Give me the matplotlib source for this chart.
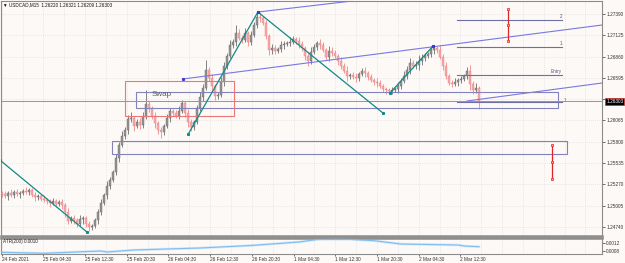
import numpy as np
import matplotlib
matplotlib.use("Agg")
import matplotlib.pyplot as plt
from matplotlib.patches import Rectangle

plt.rcParams['font.family'] = ['Liberation Sans', 'DejaVu Sans']

# USDCAD M15 closes (one candle ~ 2 bars)
closes = [1.25149, 1.25124, 1.25161, 1.25136, 1.25174, 1.25149, 1.25161, 1.25186, 1.25174, 1.25199,
          1.25136, 1.25112, 1.25124, 1.25087, 1.25074, 1.25062, 1.25037, 1.25062, 1.25024, 1.25049,
          1.25012, 1.24925, 1.24813, 1.24850, 1.24825, 1.24776, 1.24838, 1.24850, 1.24776, 1.24738,
          1.24751, 1.24825, 1.24925, 1.25037, 1.25136, 1.25249, 1.25323, 1.25423, 1.25597, 1.25759,
          1.25871, 1.25946, 1.26083, 1.26095, 1.25996, 1.26045, 1.26008, 1.26108, 1.26269, 1.26220,
          1.26120, 1.26033, 1.25946, 1.25921, 1.25996, 1.26095, 1.26182, 1.26157, 1.26120, 1.26182,
          1.26282, 1.26157, 1.26045, 1.25983, 1.26045, 1.26220, 1.26357, 1.26469, 1.26693, 1.26593,
          1.26494, 1.26369, 1.26382, 1.26543, 1.26743, 1.26867, 1.27004, 1.27041, 1.27153, 1.27091,
          1.27066, 1.27153, 1.27041, 1.27129, 1.27253, 1.27353, 1.27340, 1.27278, 1.27116, 1.26942,
          1.26967, 1.26929, 1.26954, 1.27004, 1.27016, 1.27029, 1.27041, 1.27079, 1.27054, 1.27016,
          1.26967, 1.26867, 1.26805, 1.26917, 1.26979, 1.27029, 1.27004, 1.26942, 1.26855, 1.26929,
          1.26904, 1.26867, 1.26805, 1.26743, 1.26680, 1.26618, 1.26631, 1.26606, 1.26593, 1.26643,
          1.26680, 1.26655, 1.26606, 1.26568, 1.26543, 1.26531, 1.26494, 1.26456, 1.26444, 1.26431,
          1.26444, 1.26456, 1.26494, 1.26556, 1.26618, 1.26693, 1.26780, 1.26743, 1.26755, 1.26805,
          1.26842, 1.26867, 1.26892, 1.26942, 1.26967, 1.26942, 1.26855, 1.26743, 1.26618, 1.26531,
          1.26518, 1.26543, 1.26568, 1.26581, 1.26618, 1.26680, 1.26518, 1.26444, 1.26469, 1.26303]
first_open = 1.25161

# wick lengths in pips above / below the body
wick_up = [3, 4, 2, 5, 3, 4, 2, 3, 5, 2, 3, 4, 2, 3, 5, 3, 2, 4, 3, 2,
           4, 3, 5, 2, 4, 3, 5, 2, 3, 4, 3, 2, 4, 5, 3, 6, 4, 3, 5, 4,
           6, 4, 5, 7, 3, 4, 5, 6, 17, 4, 3, 5, 2, 4, 3, 5, 4, 3, 4, 6,
           4, 3, 5, 4, 3, 4, 6, 5, 12, 4, 5, 3, 4, 6, 5, 4, 6, 4, 10, 5,
           4, 6, 3, 5, 4, 6, 5, 3, 4, 3, 5, 4, 3, 5, 4, 3, 6, 4, 3, 5,
           4, 3, 5, 6, 4, 3, 5, 4, 3, 6, 5, 4, 3, 5, 4, 6, 3, 4, 5, 3,
           4, 5, 3, 4, 3, 5, 4, 3, 2, 3, 4, 3, 5, 4, 6, 5, 6, 4, 5, 7,
           5, 4, 3, 5, 4, 3, 6, 4, 5, 3, 4, 5, 3, 4, 3, 5, 7, 4, 6, 3]
wick_dn = [4, 3, 5, 2, 4, 3, 5, 3, 2, 4, 3, 5, 4, 3, 2, 4, 5, 3, 4, 3,
           5, 6, 4, 3, 5, 4, 3, 6, 4, 5, 4, 3, 5, 4, 3, 5, 4, 3, 4, 5,
           3, 4, 5, 4, 6, 3, 5, 4, 3, 5, 4, 6, 5, 7, 4, 3, 5, 4, 3, 4,
           3, 5, 6, 5, 4, 3, 4, 5, 3, 4, 6, 5, 4, 3, 5, 4, 3, 4, 5, 3,
           4, 3, 5, 4, 3, 4, 5, 3, 4, 6, 5, 4, 3, 4, 5, 3, 4, 3, 4, 5,
           4, 5, 6, 4, 3, 4, 5, 3, 4, 5, 4, 3, 5, 4, 3, 6, 4, 3, 5, 4,
           3, 5, 4, 3, 4, 5, 3, 4, 5, 3, 4, 3, 5, 4, 3, 4, 5, 3, 4, 6,
           5, 4, 3, 4, 5, 4, 3, 5, 4, 3, 4, 3, 5, 4, 3, 4, 7, 5, 4, 9]

# ATR(200) sub-window
atr_idx = [0, 14, 27, 33, 35, 44, 66, 83, 99, 105, 111, 116, 124, 133, 152, 154, 159]
atr_val = [0.000735, 0.000685, 0.000765, 0.0008, 0.00075, 0.00085, 0.00095, 0.001075, 0.00125,
           0.001375, 0.001385, 0.00138, 0.001315, 0.00115, 0.0011, 0.00105, 0.001015]

price_ticks = [1.27390, 1.27125, 1.26860, 1.26595, 1.26330, 1.26065, 1.25800, 1.25535, 1.25270, 1.25005, 1.24740]
time_labels = ["24 Feb 2021", "25 Feb 04:30", "25 Feb 12:30", "25 Feb 20:30", "26 Feb 04:30", "26 Feb 12:30",
               "26 Feb 20:30", "1 Mar 04:30", "1 Mar 12:30", "1 Mar 20:30", "2 Mar 04:30", "2 Mar 12:30"]
bid = 1.26303

# objects drawn on the chart (bar index, price)
teal_lines = [((-0.7, 1.25572), (28.3, 1.24676)),
              ((62.1, 1.25896), (85.3, 1.27415)),
              ((85.3, 1.27415), (127.0, 1.26157)),
              ((129.3, 1.26406), (143.7, 1.26992))]
blue_lines = [((85.3, 1.27415), (116.7, 1.27552)),
              ((60.3, 1.26581), (200.0, 1.27253)),
              ((155.0, 1.26307), (200.0, 1.26531))]
blue_rects = [(44.7, 1.26220, 185.3, 1.26419), (36.7, 1.25647, 188.3, 1.25809)]
red_rects = [(41.0, 1.26120, 77.3, 1.26556)]
levels = [1.27315, 1.26979, 1.26631, 1.26294]
level_names = ["2", "1", "Entry", ""]
level_span = (151.7, 186.7)
red_bars = [(168.7, [1.27452, 1.27253, 1.27058]), (183.3, [1.25759, 1.25547, 1.25336])]

W, H = 625, 263
bg = '#fdf9f7'
fig = plt.figure(figsize=(W / 100, H / 100), dpi=100, facecolor=bg)
ax = fig.add_axes([1 / W, (H - 236) / H, 601 / W, 235 / H], facecolor=bg)
ax2 = fig.add_axes([1 / W, (H - 254) / H, 601 / W, 16 / H], facecolor=bg)

closes = np.array(closes)
opens = np.concatenate([[first_open], closes[:-1]])
highs = np.maximum(opens, closes) + np.array(wick_up) * 0.0001
lows = np.minimum(opens, closes) - np.array(wick_dn) * 0.0001
idx = np.arange(len(closes))
up = closes >= opens

# grid
xl = (-0.33, 200.0)
grid_x = -0.1 + 6.95 * np.arange(0, 29)
for g in grid_x:
    ax.axvline(g, color='#d6d6d6', lw=0.5, ls=(0, (1, 2)), zorder=0)
    ax2.axvline(g, color='#d6d6d6', lw=0.5, ls=(0, (1, 2)), zorder=0)
for p in price_ticks:
    ax.axhline(p, color='#d6d6d6', lw=0.5, ls=(0, (1, 2)), zorder=0)

# candles
ax.vlines(idx[up], lows[up], highs[up], color='#6e6e6e', lw=0.6, zorder=2)
ax.vlines(idx[~up], lows[~up], highs[~up], color='#ef8a8a', lw=0.6, zorder=2)
ax.bar(idx[up], (closes - opens)[up], bottom=opens[up], width=0.7, color='#959595',
       edgecolor='#666666', lw=0.3, zorder=3)
ax.bar(idx[~up], (closes - opens)[~up], bottom=opens[~up], width=0.7, color='#f6aaaa',
       edgecolor='#ec7c7c', lw=0.3, zorder=3)

# objects
for (x0, y0), (x1, y1) in teal_lines:
    ax.plot([x0, x1], [y0, y1], color='#108a88', lw=0.9, zorder=5)
    ax.plot([x0, x1], [y0, y1], 's', color='#108a88', ms=1.2, zorder=5)
for (x0, y0), (x1, y1) in blue_lines:
    ax.plot([x0, x1], [y0, y1], color='#7878e4', lw=0.8, zorder=4)
ax.plot([60.3, 85.3, 143.7], [1.26581, 1.27415, 1.26992], 's', color='#3a3ad0', ms=1.2, zorder=6)
for x0, y0, x1, y1 in blue_rects:
    ax.add_patch(Rectangle((x0, y0), x1 - x0, y1 - y0, fill=False, ec='#8282bc', lw=0.8, zorder=4))
for x0, y0, x1, y1 in red_rects:
    ax.add_patch(Rectangle((x0, y0), x1 - x0, y1 - y0, fill=False, ec='#ee7676', lw=0.8, zorder=4))
for lv, name in zip(levels, level_names):
    ax.plot(level_span, [lv, lv], color='#6f6fa8', lw=0.8, zorder=4)
    if name:
        ax.text(level_span[1], lv + 0.00012, name, fontsize=3.3, color='#555577',
                ha='right', va='bottom', zorder=6)
ax.text(187.2, 1.26310, "1", fontsize=3.3, color='#555577', ha='left', va='center')
for x, ys in red_bars:
    ax.plot([x, x], [ys[0], ys[-1]], color='#e02424', lw=0.9, zorder=6)
    ax.plot([x] * 3, ys, 's', ms=1.6, mfc='#f6b0b0', mec='#e02424', mew=0.5, zorder=7)
ax.text(50.0, 1.26382, "Swap", fontsize=5.8, color='#5e5e5e', va='center', ha='left', zorder=6)

ax.axhline(bid, color='#e87272', lw=0.7, zorder=4)

ax.set_xlim(*xl)
ax.set_ylim(1.24626, 1.27552)
ax.set_xticks([])
ax.yaxis.tick_right()
ax.set_yticks(price_ticks)
ax.set_yticklabels([f"{p:.5f}" if abs(p - 1.26330) > 1e-6 else "" for p in price_ticks])
ax.tick_params(axis='y', length=2, width=0.5, pad=1, labelsize=3.4, colors='#333333')
for s in ax.spines.values():
    s.set_color('#8c8c8c')
    s.set_linewidth(0.8)
ax.spines['bottom'].set_linewidth(1.8)

# current price box
ax.annotate(f"{bid:.5f}", xy=(1.0, bid), xycoords=('axes fraction', 'data'), xytext=(3, 0),
            textcoords='offset points', fontsize=3.4, color='white', va='center', ha='left',
            bbox=dict(boxstyle='square,pad=0.25', fc='black', ec='#d03030', lw=0.5))

# ATR window
ax2.plot(atr_idx, atr_val, color='#d2e8fa', lw=1.8, zorder=2)
ax2.plot(atr_idx, atr_val, color='#7fbdf0', lw=0.8, zorder=3)
ax2.set_xlim(*xl)
ax2.set_ylim(0.00065, 0.00145)
ax2.yaxis.tick_right()
ax2.set_yticks([0.0012, 0.0008])
ax2.set_yticklabels(["0.0012", "0.0008"])
ax2.tick_params(axis='y', length=2, width=0.5, pad=1, labelsize=3.4, colors='#333333')
tpos = -0.1 + 13.9 * np.arange(len(time_labels))
ax2.set_xticks(tpos)
ax2.set_xticklabels(time_labels, ha='left')
ax2.tick_params(axis='x', length=1.5, width=0.5, pad=0.8, labelsize=3.4, colors='#333333')
for s in ax2.spines.values():
    s.set_color('#8c8c8c')
    s.set_linewidth(0.8)
ax2.spines['top'].set_linewidth(1.8)

fig.text(3 / W, 1 - 5 / H, "\u25bc USDCAD,M15  1.26220 1.26321 1.26209 1.26303", fontsize=3.3,
         va='center', ha='left', color='#111111')
ax2.text(0.004, 0.78, "ATR(200) 0.0010", transform=ax2.transAxes, fontsize=3.3, va='center',
         ha='left', color='#222222')

fig.savefig("out.png", dpi=100, facecolor=bg)
